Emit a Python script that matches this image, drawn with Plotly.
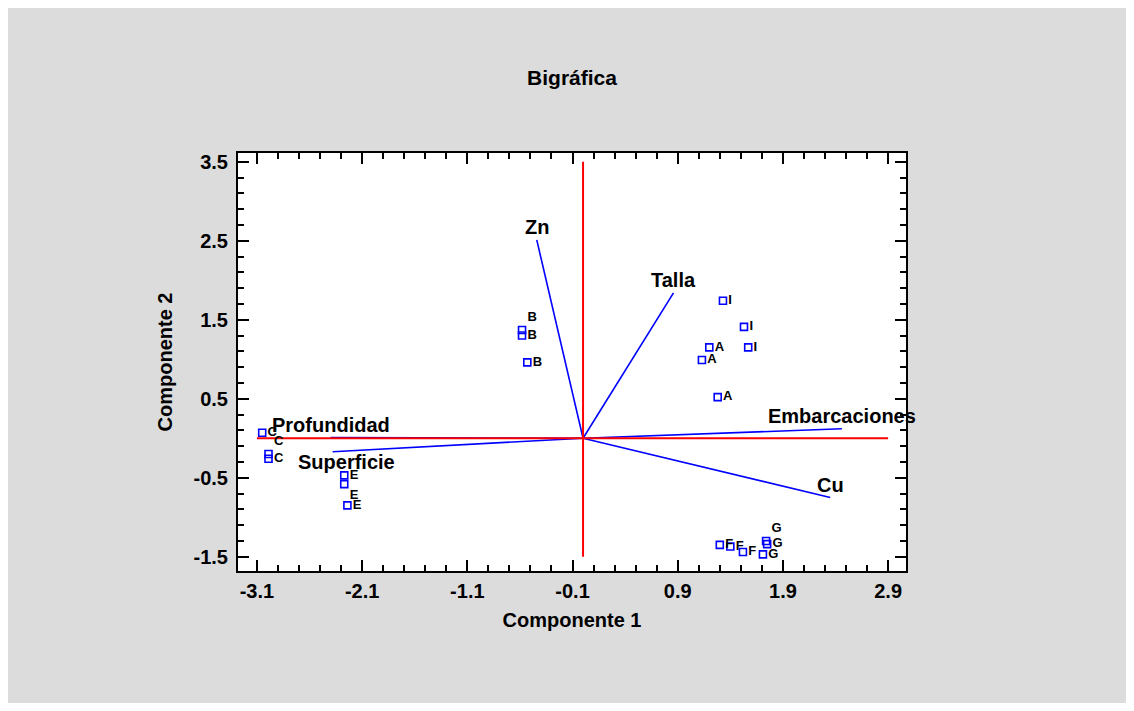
import plotly.graph_objects as go

# ---- data ----
obs_x = [1.20, 1.13, 1.28,
         -0.58, -0.58, -0.53,
         -3.05, -2.99, -2.99,
         -2.27, -2.27, -2.24,
         1.30, 1.40, 1.52,
         1.74, 1.75, 1.71,
         1.33, 1.53, 1.57]
obs_y = [1.15, 0.99, 0.52,
         1.37, 1.30, 0.96,
         0.07, -0.20, -0.26,
         -0.47, -0.58, -0.85,
         -1.35, -1.37, -1.44,
         -1.30, -1.34, -1.47,
         1.74, 1.41, 1.15]
obs_labels = ["A", "A", "A",
              "B", "B", "B",
              "C", "C", "C",
              "E", "E", "E",
              "F", "F", "F",
              "G", "G", "G",
              "I", "I", "I"]

var_names = ["Zn", "Talla", "Embarcaciones", "Cu", "Superficie", "Profundidad"]
var_x = [-0.44, 0.86, 2.46, 2.35, -2.38, -2.40]
var_y = [2.51, 1.84, 0.12, -0.75, -0.17, 0.01]

x_tickvals = [-3.1, -2.1, -1.1, -0.1, 0.9, 1.9, 2.9]
x_ticktext = ["-3.1", "-2.1", "-1.1", "-0.1", "0.9", "1.9", "2.9"]
y_tickvals = [-1.5, -0.5, 0.5, 1.5, 2.5, 3.5]
y_ticktext = ["-1.5", "-0.5", "0.5", "1.5", "2.5", "3.5"]

# ---- styling ----
label_pos = ["middle right", "middle right", "middle right",
             "top right", "middle right", "middle right",
             "middle right", "top right", "middle right",
             "middle right", "bottom right", "middle right",
             "middle right", "middle right", "middle right",
             "top right", "middle right", "middle right",
             "middle right", "middle right", "middle right"]
var_xshift = [0, 0, 0, 0, 14, 0]
var_yshift = [13, 13, 13, 13, -10, 12]

BLUE = "#0000FF"
RED = "#FF0000"
FONT = "Liberation Sans"

fig = go.Figure()

vec_x, vec_y = [], []
for vx, vy in zip(var_x, var_y):
    vec_x += [0, vx, None]
    vec_y += [0, vy, None]
fig.add_trace(go.Scatter(x=vec_x, y=vec_y, mode="lines",
                         line=dict(color=BLUE, width=1.6),
                         hoverinfo="skip", showlegend=False))

fig.add_trace(go.Scatter(x=[x_tickvals[0], x_tickvals[-1], None, 0, 0],
                         y=[0, 0, None, y_tickvals[0], y_tickvals[-1]],
                         mode="lines", line=dict(color=RED, width=2),
                         hoverinfo="skip", showlegend=False))

fig.add_trace(go.Scatter(x=obs_x, y=obs_y, mode="markers+text",
                         text=obs_labels, textposition=label_pos,
                         marker=dict(symbol="square-open", size=7, color=BLUE,
                                     line=dict(width=1.6, color=BLUE)),
                         textfont=dict(family=FONT, size=13, color="black", weight="bold"),
                         cliponaxis=False, showlegend=False))

for name, vx, vy, xs, ys in zip(var_names, var_x, var_y, var_xshift, var_yshift):
    fig.add_annotation(x=vx, y=vy, text=name, showarrow=False,
                       xshift=xs, yshift=ys, xanchor="center", yanchor="middle",
                       font=dict(family=FONT, size=20, color="black", weight="bold"))

axis_common = dict(showline=True, linewidth=2, linecolor="black", mirror="ticks",
                   ticks="inside", ticklen=11, tickwidth=2, tickcolor="black",
                   showgrid=False, zeroline=False,
                   tickfont=dict(family=FONT, size=20, color="black", weight="bold"))

fig.update_xaxes(range=[-3.28, 3.07], tickmode="array", tickvals=x_tickvals,
                 ticktext=x_ticktext,
                 minor=dict(tick0=-3.1, dtick=0.2, ticks="inside", ticklen=6,
                            tickwidth=2, tickcolor="black"),
                 title=dict(text="Componente 1", standoff=12,
                            font=dict(family=FONT, size=20, color="black", weight="bold")),
                 ticklabelstandoff=1,
                 **axis_common)
fig.update_yaxes(range=[-1.68, 3.61], tickmode="array", tickvals=y_tickvals,
                 ticktext=y_ticktext,
                 minor=dict(tick0=-1.5, dtick=0.2, ticks="inside", ticklen=6,
                            tickwidth=2, tickcolor="black"),
                 title=dict(text="Componente 2", standoff=16,
                            font=dict(family=FONT, size=20, color="black", weight="bold")),
                 ticklabelstandoff=4,
                 **axis_common)

W, H = 1118, 695
fig.update_layout(
    width=W, height=H,
    margin=dict(l=230, r=220, t=145, b=132, autoexpand=False),
    paper_bgcolor="#DCDCDC", plot_bgcolor="white",
    title=dict(text="Bigráfica", x=0.5, xref="paper", y=1 - 70 / H, yref="container",
               xanchor="center", yanchor="middle",
               font=dict(family=FONT, size=21, color="black", weight="bold")),
    showlegend=False,
)

fig.write_html("out.html")
